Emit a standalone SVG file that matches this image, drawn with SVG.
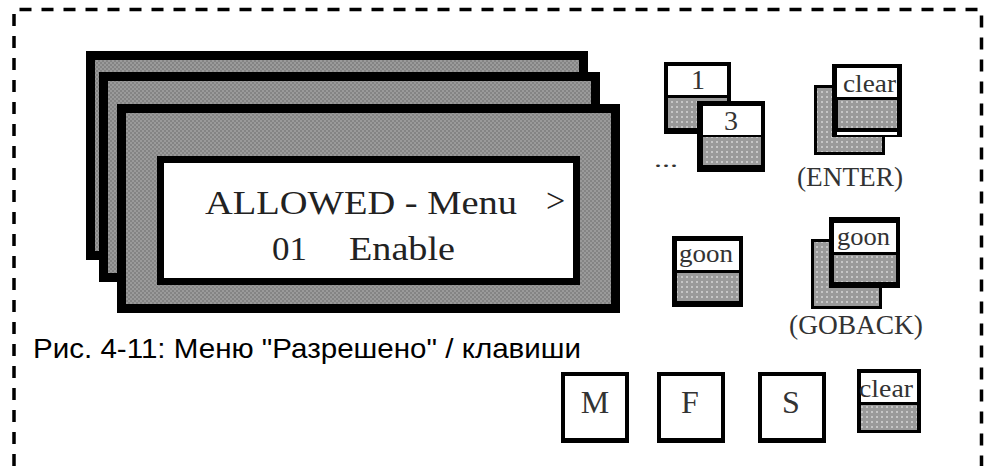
<svg xmlns="http://www.w3.org/2000/svg" width="991" height="466" viewBox="0 0 991 466">
<defs>
<pattern id="pf" width="4" height="4" patternUnits="userSpaceOnUse"><rect width="4" height="4" fill="#848484"/><rect width="2" height="2" fill="#9a9a9a"/><rect x="2" y="2" width="2" height="2" fill="#9a9a9a"/></pattern>
<pattern id="pk" width="5" height="5" patternUnits="userSpaceOnUse"><rect width="5" height="5" fill="#9a9a9a"/><rect x="1" y="1" width="2" height="2" fill="#c6c6c6"/></pattern>
<style>
.frame{fill:url(#pf);stroke:#000;stroke-width:9}
.blk{fill:#000}
.wht{fill:#fff}
.gry{fill:url(#pk)}
.lcd{font-family:"Liberation Serif","Times New Roman",serif;font-size:34px;fill:#222}
.key{font-family:"Liberation Serif","Times New Roman",serif;fill:#333}
.cap{font-family:"Liberation Sans",Arial,sans-serif;font-size:28px;fill:#000}
.border{fill:none;stroke:#000;stroke-width:3.5;stroke-dasharray:12 10}
</style>
</defs>
<path class="border" d="M14,466 L14,9.5 L981.5,9.5 L981.5,466"/>
<g id="display">
<rect class="frame" x="90.5" y="55.5" width="493" height="200"/>
<rect class="frame" x="103.5" y="76.5" width="492" height="201"/>
<rect class="frame" x="121.5" y="108.5" width="494" height="200"/>
<rect x="160.5" y="159.5" width="416" height="122" fill="#fff" stroke="#000" stroke-width="7"/>
<text class="lcd" x="205" y="214" textLength="312" lengthAdjust="spacingAndGlyphs">ALLOWED - Menu</text>
<text class="lcd" x="546" y="212" font-size="28">&gt;</text>
<text class="lcd" x="272" y="260" textLength="35" lengthAdjust="spacingAndGlyphs">01</text>
<text class="lcd" x="349" y="260" textLength="106" lengthAdjust="spacingAndGlyphs">Enable</text>
</g>
<g id="caption">
<text class="cap" x="33" y="358" textLength="548" lengthAdjust="spacingAndGlyphs">Рис. 4-11: Меню "Разрешено" / клавиши</text>
</g>
<g id="key-digits">
<rect class="blk" x="664" y="62" width="67" height="72"/>
<rect class="wht" x="668" y="66" width="59" height="29"/>
<rect class="gry" x="668" y="98" width="59" height="30"/>
<text class="key" x="698" y="89" font-size="28" text-anchor="middle">1</text>
<rect class="blk" x="697" y="101" width="68" height="71"/>
<rect class="wht" x="703" y="106" width="58" height="29"/>
<rect class="gry" x="703" y="137" width="58" height="28"/>
<text class="key" x="731" y="130" font-size="28" text-anchor="middle">3</text>
<text class="key" x="654" y="167" font-size="22" textLength="24" lengthAdjust="spacingAndGlyphs">...</text>
</g>
<g id="key-enter">
<rect class="blk" x="814" y="85" width="71" height="70"/>
<rect class="gry" x="817" y="88" width="65" height="64"/>
<rect class="blk" x="832" y="64" width="70" height="73"/>
<rect class="wht" x="837" y="68" width="60" height="29"/>
<rect class="gry" x="838" y="100" width="59" height="28"/>
<rect class="wht" x="837" y="132" width="60" height="3"/>
<text class="key" x="843" y="92" font-size="25" textLength="53" lengthAdjust="spacingAndGlyphs">clear</text>
<text class="key" x="797" y="186" font-size="27" textLength="106" lengthAdjust="spacingAndGlyphs">(ENTER)</text>
</g>
<g id="key-goon">
<rect class="blk" x="672" y="236" width="71" height="71"/>
<rect class="wht" x="677" y="241" width="62" height="29"/>
<rect class="gry" x="677" y="273" width="62" height="28"/>
<text class="key" x="679" y="262" font-size="25" textLength="54" lengthAdjust="spacingAndGlyphs">goon</text>
</g>
<g id="key-goback">
<rect class="blk" x="811" y="239" width="71" height="70"/>
<rect class="gry" x="814" y="242" width="65" height="64"/>
<rect class="blk" x="829" y="217" width="71" height="71"/>
<rect class="wht" x="834" y="223" width="62" height="29"/>
<rect class="gry" x="834" y="255" width="62" height="27"/>
<text class="key" x="837" y="245" font-size="25" textLength="53" lengthAdjust="spacingAndGlyphs">goon</text>
<text class="key" x="789" y="334" font-size="27" textLength="134" lengthAdjust="spacingAndGlyphs">(GOBACK)</text>
</g>
<g id="key-m">
<rect class="blk" x="561" y="372" width="68" height="71"/>
<rect class="wht" x="565" y="376" width="60" height="62"/>
<text class="key" x="595" y="413" font-size="32" text-anchor="middle">M</text>
</g>
<g id="key-f">
<rect class="blk" x="657" y="372" width="68" height="71"/>
<rect class="wht" x="661" y="376" width="60" height="62"/>
<text class="key" x="690" y="413" font-size="32" text-anchor="middle">F</text>
</g>
<g id="key-s">
<rect class="blk" x="758" y="372" width="68" height="71"/>
<rect class="wht" x="762" y="376" width="60" height="62"/>
<text class="key" x="791" y="413" font-size="32" text-anchor="middle">S</text>
</g>
<g id="key-clear">
<rect class="blk" x="857" y="369" width="64" height="64"/>
<rect class="wht" x="861" y="373" width="56" height="29"/>
<rect class="gry" x="861" y="405" width="56" height="25"/>
<text class="key" x="859" y="397" font-size="25" textLength="54" lengthAdjust="spacingAndGlyphs">clear</text>
</g>
</svg>
